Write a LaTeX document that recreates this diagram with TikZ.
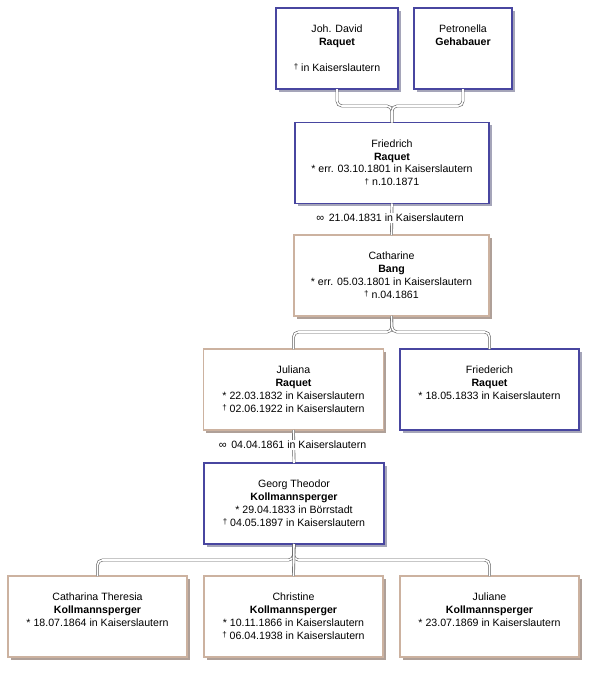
\documentclass[tikz,border=0pt]{standalone}
\usepackage{fontspec}
\setmainfont{Liberation Sans}
\usetikzlibrary{shadows,positioning}
\definecolor{mannblau}{RGB}{72,70,160}
\definecolor{mannschatten}{RGB}{165,165,185}
\definecolor{fraubraun}{RGB}{204,178,160}
\definecolor{frauschatten}{RGB}{175,160,152}
\definecolor{liniengrau}{RGB}{95,95,95}
\newcommand{\geb}{*}
\newcommand{\tod}{{\fontsize{8}{8}\selectfont\raisebox{1.6pt}{†}}}
\newcommand{\verh}{{\fontsize{11}{11}\selectfont ∞}\,}
\tikzset{
  person/.style={draw,line width=1.1pt,fill=white,inner sep=0pt,outer sep=0pt,minimum height=81pt},
  mann/.style={person,draw=mannblau,drop shadow={shadow xshift=2.8pt,shadow yshift=-2.8pt,fill=mannschatten,opacity=1}},
  frau/.style={person,draw=fraubraun,drop shadow={shadow xshift=2.8pt,shadow yshift=-2.8pt,fill=frauschatten,opacity=1}},
  info/.style={anchor=north,align=center,inner sep=0pt,font=\fontsize{10.6}{12.8}\selectfont},
  heirat/.style={fill=white,inner sep=1.5pt,font=\fontsize{10.6}{12.8}\selectfont},
  conn/.style={draw=liniengrau,double=white,double distance=1.6pt,line width=0.6pt,rounded corners=5pt}
}
\begin{document}
\begin{tikzpicture}[x=1pt,y=-1pt]
\path[use as bounding box] (0,0) rectangle (595,673);
\node[mann,minimum width=122pt] (jd) at (337,48.5) {};
\node[mann,minimum width=98pt] (pg) at (463,48.5) {};
\node[mann,minimum width=194pt] (fr) at (392,163) {};
\node[frau,minimum width=195pt] (ca) at (391.5,275.5) {};
\node[frau,minimum width=180pt] (ju) at (293.5,389.5) {};
\node[mann,minimum width=179pt] (fd) at (489.5,389.5) {};
\node[mann,minimum width=180pt] (gt) at (294,503.5) {};
\node[frau,minimum width=179pt] (ct) at (97.5,616.5) {};
\node[frau,minimum width=179pt] (ch) at (293.5,616.5) {};
\node[frau,minimum width=179pt] (jl) at (489.5,616.5) {};
\node[info,below=17pt of jd.north] (jdt) {Joh. David\\\textbf{Raquet}\\[12.8pt]\tod{} in Kaiserslautern};
\node[info,below=17pt of pg.north] (pgt) {Petronella\\\textbf{Gehabauer}};
\node[info,below=17pt of fr.north] (frt) {Friedrich\\\textbf{Raquet}\\\geb{} err. 03.10.1801 in Kaiserslautern\\\tod{} n.10.1871};
\node[info,below=17pt of ca.north] (cat) {Catharine\\\textbf{Bang}\\\geb{} err. 05.03.1801 in Kaiserslautern\\\tod{} n.04.1861};
\node[info,below=17pt of ju.north] (jut) {Juliana\\\textbf{Raquet}\\\geb{} 22.03.1832 in Kaiserslautern\\\tod{} 02.06.1922 in Kaiserslautern};
\node[info,below=17pt of fd.north] (fdt) {Friederich\\\textbf{Raquet}\\\geb{} 18.05.1833 in Kaiserslautern};
\node[info,below=17pt of gt.north] (gtt) {Georg Theodor\\\textbf{Kollmannsperger}\\\geb{} 29.04.1833 in Börrstadt\\\tod{} 04.05.1897 in Kaiserslautern};
\node[info,below=17pt of ct.north] (ctt) {Catharina Theresia\\\textbf{Kollmannsperger}\\\geb{} 18.07.1864 in Kaiserslautern};
\node[info,below=17pt of ch.north] (cht) {Christine\\\textbf{Kollmannsperger}\\\geb{} 10.11.1866 in Kaiserslautern\\\tod{} 06.04.1938 in Kaiserslautern};
\node[info,below=17pt of jl.north] (jlt) {Juliane\\\textbf{Kollmannsperger}\\\geb{} 23.07.1869 in Kaiserslautern};
\coordinate (b1) at (392,106);
\coordinate (b2) at (392,332);
\coordinate (b3) at (293.5,560);
\draw[conn] (jd.south) |- (b1) -- (fr.north);
\draw[conn] (pg.south) |- (b1) -- (fr.north);
\draw[conn] (fr.south) -- (ca.north);
\draw[conn] (ju.north) |- (b2) -- (ca.south);
\draw[conn] (fd.north) |- (b2) -- (ca.south);
\draw[conn] (ju.south) -- (gt.north);
\draw[conn] (ct.north) |- (b3) -- (gt.south);
\draw[conn] (jl.north) |- (b3) -- (gt.south);
\draw[conn] (ch.north) -- (gt.south);
\node[heirat] (h1) at (390,218) {\verh{} 21.04.1831 in Kaiserslautern};
\node[heirat] (h2) at (292.5,445) {\verh{} 04.04.1861 in Kaiserslautern};
\end{tikzpicture}
\end{document}
